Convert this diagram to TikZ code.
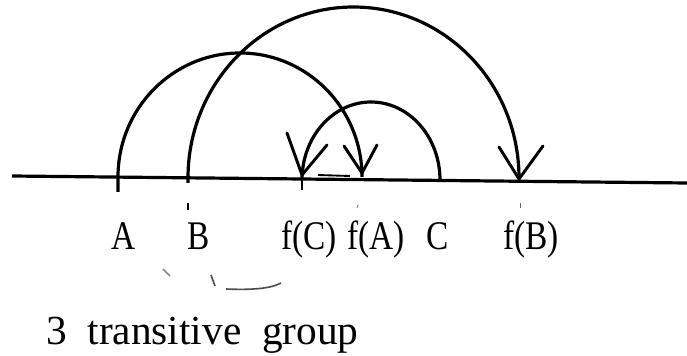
\documentclass[tikz,border=0pt]{standalone}
\usepackage{fontspec}
\setmainfont{Liberation Serif}
\begin{document}
\begin{tikzpicture}[x=0.75pt,y=-0.75pt,
  curve/.style={line width=2.4pt},
  arm/.style={line width=2.2pt,line cap=round},
  tick/.style={line width=1.5pt},
  lbl/.style={anchor=base,inner sep=0pt,font=\fontsize{30.5}{36}\selectfont,xscale=0.82},
  noise/.style={line width=1.2pt,black!70}]
\useasboundingbox (0,0) rectangle (687,356);
% axis
\coordinate (L) at (12,176);
\coordinate (R) at (687,183);
\draw[line width=2.4pt] (L) -- (R);
% points
\coordinate (Ap) at (118,192);
\coordinate (Bp) at (188,183);
\coordinate (fC) at (302,175);
\coordinate (fA) at (362,173);
\coordinate (Cp) at (440,180);
\coordinate (fB) at (519,179);
% arcs
\draw[curve] (Ap) -- (118,177) arc[start angle=180,end angle=360,x radius=122,y radius=124];
\draw[curve] (Bp) -- (188,178) arc[start angle=180,end angle=360,x radius=165.5,y radius=171];
\draw[curve] (Cp) arc[start angle=0,end angle=-180,x radius=69,y radius=78];
% arrowheads
\draw[arm] (287,133) -- (fC) -- (327,145);
\draw[arm] (344,146) -- (fA) -- (377,145);
\draw[arm] (499,147) -- (fB) -- (543,146);
% ticks
\draw[tick] (fC) -- (302,190);
\draw[tick] (188,203) -- (188,210);
\draw[line width=0.6pt,black!60] (520,203) -- (520,208);
\draw[line width=0.6pt,black!50] (358,205) -- (357,208);
\draw[line width=1.4pt] (318,175) -- (350,176);
% labels
\node[lbl] (tA) at (124,250) {A};
\node[lbl] (tB) at (199,250) {B};
\node[lbl] (tfC) at (309,250) {f(C)};
\node[lbl] (tfA) at (376,250) {f(A)};
\node[lbl] (tC) at (438,250) {C};
\node[lbl] (tfB) at (531,250) {f(B)};
% faint marks
\draw[noise,black!45] (163,269) -- (170,276);
\draw[noise] (211,275) -- (215,286);
\draw[noise] (226,289) .. controls (250,290) and (270,289) .. (281,283);
% caption
\node[anchor=base west,inner sep=0pt,font=\fontsize{31}{36}\selectfont] (cap) at (46,345) {3\hspace{0.25em} transitive\hspace{0.25em} group};
\end{tikzpicture}
\end{document}
